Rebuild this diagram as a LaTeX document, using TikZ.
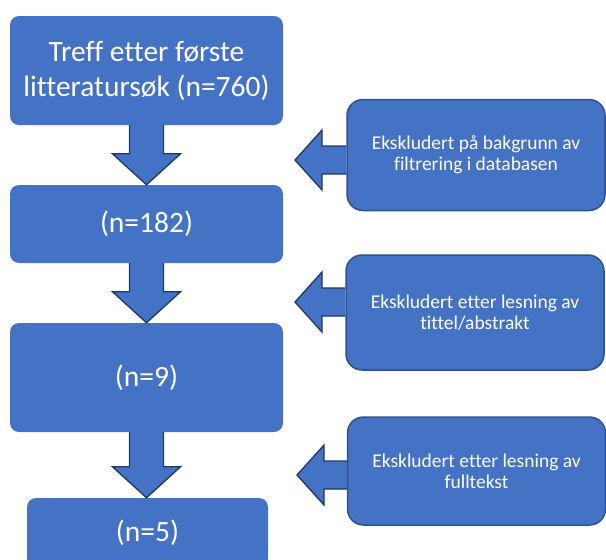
\documentclass[tikz,border=0pt]{standalone}
\usepackage{fontspec}
\setmainfont{Carlito}[Ligatures={NoCommon}]
\usetikzlibrary{calc,positioning}
\definecolor{officeblue}{HTML}{4472C4}
\definecolor{edgeblue}{HTML}{2F528F}
\definecolor{arrowedge}{HTML}{1F3864}
\tikzset{
  countbox/.style={fill=officeblue, text=white, rounded corners=9pt, align=center,
    inner sep=0pt, font=\fontsize{29.5}{35}\selectfont},
  exclbox/.style={fill=officeblue, draw=edgeblue, line width=1.5pt, rounded corners=16pt,
    text=white, align=center, inner sep=0pt, minimum width=258pt, minimum height=111pt,
    font=\fontsize{19.5}{21}\selectfont},
  blockarrow/.style={fill=officeblue, draw=arrowedge, line width=1.3pt, line join=miter}
}
% down arrow between two count boxes
\def\flowarrow(#1)(#2){%
  \path (#1.south |- #2.north) coordinate (#1tip);
  \draw[blockarrow] ($(#1.south)+(-17,0)$) -- ($(#1tip)+(-17,-31)$) -- ($(#1tip)+(-34,-31)$)
    -- (#1tip) -- ($(#1tip)+(34,-31)$) -- ($(#1tip)+(17,-31)$) -- ($(#1.south)+(17,0)$);}
% left arrow from an exclusion box to its tip
\def\sidearrow(#1)(#2){%
  \draw[blockarrow] (#2 -| #1.west) ++(0,-14) -- ($(#2)+(27,-14)$) -- ($(#2)+(27,-30)$)
    -- (#2) -- ($(#2)+(27,30)$) -- ($(#2)+(27,14)$) -- ($(#2 -| #1.west)+(0,14)$);}

\begin{document}
\begin{tikzpicture}[x=1pt,y=-1pt]
  %%%%% START %%%%%
  \clip (0,0) rectangle (606,560);
  \useasboundingbox (0,0) rectangle (606,560);

  \node[countbox, minimum width=273pt, minimum height=109pt] (hits) at (146.5,70.5)
    {Treff etter første\\litteratursøk (n=760)};
  \node[countbox, minimum width=273pt, minimum height=78pt] (n182) at (146.5,224) {(n=182)};
  \node[countbox, minimum width=273pt, minimum height=109pt] (n9) at (146.5,377.5) {(n=9)};
  \node[countbox, minimum width=241pt, minimum height=70pt] (n5) at (147.5,533) {(n=5)};

  \flowarrow(hits)(n182)
  \flowarrow(n182)(n9)
  \flowarrow(n9)(n5)

  \node[exclbox] (filter) at (476,155) {Ekskludert på bakgrunn av\\filtrering i databasen};
  \node[exclbox, minimum height=115pt] (title) at (475,312.5) {Ekskludert etter lesning av\\tittel/abstrakt};
  \node[exclbox, minimum height=108pt] (full) at (476.5,471) {Ekskludert etter lesning av\\fulltekst};

  \coordinate (filtertip) at (295,160);
  \coordinate (titletip) at (295,302);
  \coordinate (fulltip) at (297,475);

  \sidearrow(filter)(filtertip)
  \sidearrow(title)(titletip)
  \sidearrow(full)(fulltip)
  %%%%% END %%%%%
\end{tikzpicture}
\end{document}
